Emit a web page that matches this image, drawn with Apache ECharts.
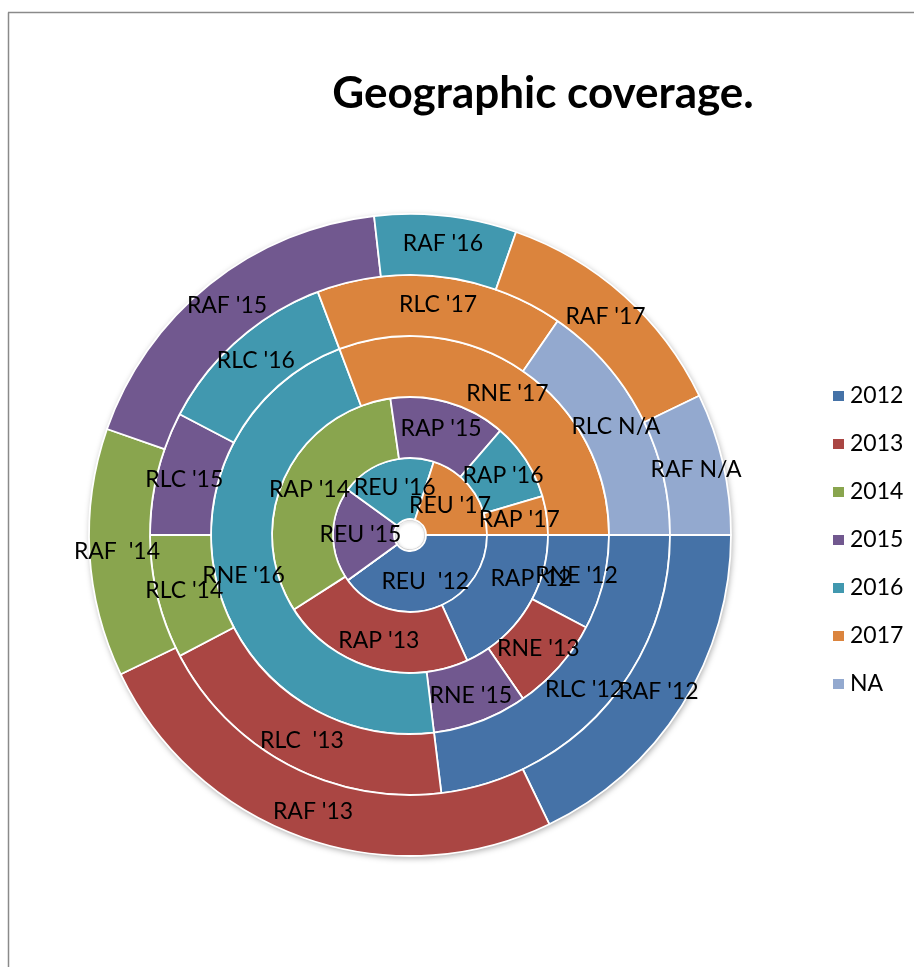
<!DOCTYPE html>
<html>
<head>
<meta charset="utf-8">
<script src="https://cdn.jsdelivr.net/npm/echarts@6/dist/echarts.min.js"></script>
<style>
html,body{margin:0;padding:0;background:#fff;}
#chart{width:914px;height:967px;}
</style>
</head>
<body>
<div id="chart"></div>
<script>
// Categories (years) and ring values, inner ring first
const categories = ['2012', '2013', '2014', '2015', '2016', '2017', 'NA'];
const reu = [2, 0, 0, 1, 1, 1, 0];
const rap = [4, 5, 7, 3, 2, 1, 0];
const rne = [1, 1, 0, 1, 6, 4, 0];
const rlc = [6, 5, 2, 2, 3, 4, 4];
const raf = [10, 14, 7, 10, 4, 7, 4];

const reuLabels = ["REU  '12", "REU '13", "REU '14", "REU '15", "REU '16", "REU '17", "REU N/A"];
const rapLabels = ["RAP '12", "RAP '13", "RAP '14", "RAP '15", "RAP '16", "RAP '17", "RAP N/A"];
const rneLabels = ["RNE '12", "RNE '13", "RNE '14", "RNE '15", "RNE '16", "RNE '17", "RNE N/A"];
const rlcLabels = ["RLC '12", "RLC  '13", "RLC '14", "RLC '15", "RLC '16", "RLC '17", "RLC N/A"];
const rafLabels = ["RAF '12", "RAF '13", "RAF  '14", "RAF '15", "RAF '16", "RAF '17", "RAF N/A"];

const titleText = 'Geographic coverage.';
const colors = ['#4572A7', '#AA4643', '#89A54E', '#71588F', '#4198AF', '#DB843D', '#93A9CF'];

const chart = echarts.init(document.getElementById('chart'), null, {renderer: 'canvas'});
const FONT = 'Lato, "Open Sans", sans-serif';
const CX = 410, CY = 535;

function ring(name, values, labels, r0, r1, overrides) {
  return {
    name: name,
    type: 'pie',
    center: [CX, CY],
    radius: [r0, r1],
    startAngle: 0,
    clockwise: true,
    minAngle: 0,
    avoidLabelOverlap: false,
    animation: false,
    silent: true,
    z: 2,
    itemStyle: {borderColor: '#fff', borderWidth: 1.8},
    label: {
      show: true,
      position: 'inside',
      color: '#000',
      fontFamily: FONT,
      fontSize: 23,
      overflow: 'none',
      formatter: function (p) { return p.value ? labels[p.dataIndex] : ''; }
    },
    labelLayout: {hideOverlap: false},
    labelLine: {show: false},
    emphasis: {disabled: true},
    data: categories.map(function (c, i) {
      const d = {name: c, value: values[i]};
      if (overrides && overrides[i]) Object.assign(d, overrides[i]);
      return d;
    })
  };
}

const option = {
  color: colors,
  animation: false,
  legend: {
    orient: 'vertical',
    left: 826,
    top: 379,
    itemWidth: 13,
    itemHeight: 12,
    itemGap: 24,
    icon: 'rect',
    selectedMode: false,
    textStyle: {fontFamily: FONT, fontSize: 23, color: '#000', lineHeight: 24},
    data: categories
  },
  graphic: [
    {type: 'line', shape: {x1: 8.5, y1: 12.5, x2: 8.5, y2: 967}, style: {stroke: '#8a8a8a', lineWidth: 1.5}},
    {type: 'line', shape: {x1: 8, y1: 12.5, x2: 914, y2: 12.5}, style: {stroke: '#8a8a8a', lineWidth: 1.5}},
    {type: 'circle', z: -10, silent: true, shape: {cx: CX, cy: CY, r: 321},
     style: {fill: '#fff', shadowBlur: 6, shadowOffsetX: 1, shadowOffsetY: 2, shadowColor: 'rgba(0,0,0,0.35)'}},
    {type: 'circle', z: 1, silent: true, shape: {cx: CX, cy: CY, r: 15},
     style: {fill: '#fff', stroke: '#d0d0d0', lineWidth: 1, shadowBlur: 3, shadowOffsetX: 1, shadowOffsetY: 1, shadowColor: 'rgba(0,0,0,0.3)'}},
    {type: 'text', x: 543, y: 94,
     style: {text: titleText, fill: '#000', font: 'bold 44px ' + FONT, align: 'center', verticalAlign: 'middle'}}
  ],
  series: [
    ring('REU', reu, reuLabels, 16, 77),
    ring('RAP', rap, rapLabels, 77, 138, {0: {label: {offset: [28, -16]}}}),
    ring('RNE', rne, rneLabels, 138, 199),
    ring('RLC', rlc, rlcLabels, 199, 260),
    ring('RAF', raf, rafLabels, 260, 321)
  ]
};
chart.setOption(option);
</script>
</body>
</html>
